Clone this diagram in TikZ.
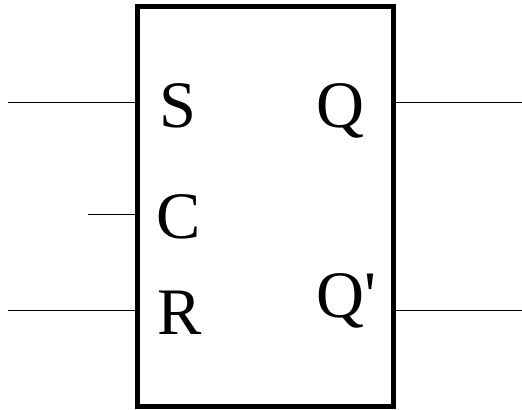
\documentclass[tikz,border=0pt]{standalone}
\usepackage{fontspec}
\setmainfont{LiberationSerif}[Extension=.ttf,UprightFont=*-Regular,Ligatures=TeXOff]
\usetikzlibrary{calc}

\begin{document}
\begin{tikzpicture}[x=0.02cm,y=-0.02cm,
        latch/.style={rectangle,draw=black,line width=0.1cm,minimum width=5.134cm,minimum height=8.008cm,inner sep=0},
        pin/.style={anchor=base west,inner sep=0,font=\fontsize{37.8}{40}\selectfont},
        wire/.style={line width=0.75pt}]
        \useasboundingbox (0,0) rectangle (522,410);
        \node[latch]  (ff) at (265.35,206.5) {};
        \node[pin]  (S) at (159,127) {S};
        \node[pin]  (C) at (156,238) {C};
        \node[pin]  (R) at (157,334) {R};
        \node[pin]  (Q) at (316,127) {Q};
        \node[pin]  (Qn) at (316,317) {Q'};
        \coordinate (s) at (8.3,102.3);
        \coordinate (c) at (88.3,214.3);
        \coordinate (r) at (8.3,310.3);
        \coordinate (q) at (522,102.3);
        \coordinate (qn) at (522,310.3);
        \draw[wire] (s) -- (s -| ff.west);
        \draw[wire] (c) -- (c -| ff.west);
        \draw[wire] (r) -- (r -| ff.west);
        \draw[wire] (q -| ff.east) -- (q);
        \draw[wire] (qn -| ff.east) -- (qn);
      \end{tikzpicture}
\end{document}
